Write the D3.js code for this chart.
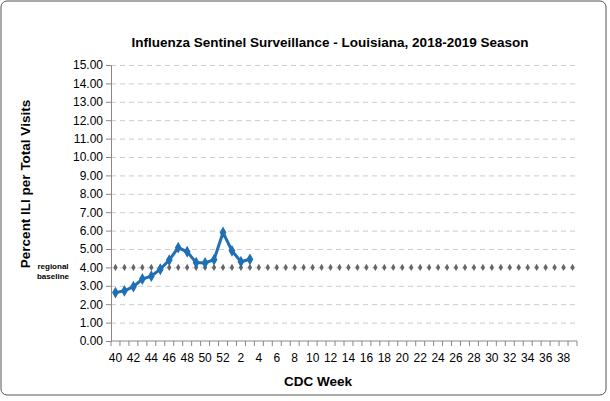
<!DOCTYPE html>
<meta charset="utf-8">
<script src="https://d3js.org/d3.v7.min.js"></script>
<style>
body { margin: 0; background: #fff; font-family: "Liberation Sans", Arial, sans-serif; }
.grid line { stroke: #ccc; stroke-dasharray: 5 4; }
.axis text { font-size: 12px; fill: #000; }
</style>
<body></body>
<script>
var weeks = [40,41,42,43,44,45,46,47,48,49,50,51,52].concat(d3.range(1, 40));
var iliWeeks = [40,41,42,43,44,45,46,47,48,49,50,51,52,1,2,3];
var iliValues = [2.63,2.73,2.95,3.37,3.52,3.90,4.40,5.07,4.85,4.26,4.24,4.42,5.90,4.90,4.31,4.44];
var baseline = 4.0;
var yTicks = d3.range(0, 15.5, 1);

var W = 610, H = 401;
var margin = {top: 65, right: 33, bottom: 60, left: 111};
var width = 577 - margin.left, height = 341 - margin.top;

var root = d3.select("body").append("svg").attr("width", W).attr("height", H);
root.append("rect").attr("x", 1).attr("y", 1).attr("width", W - 5).attr("height", H - 7)
  .attr("rx", 6).attr("fill", "#fff").attr("stroke", "#555");

var svg = root.append("g").attr("transform", "translate(" + margin.left + "," + margin.top + ")");

var x = d3.scaleBand().domain(weeks).range([0, width]);
var y = d3.scaleLinear().domain([0, 15]).range([height, 0]);

svg.append("g").attr("class", "grid")
  .call(d3.axisLeft(y).tickValues(yTicks.slice(1)).tickSize(-width).tickFormat(""))
  .call(function(g) { g.select(".domain").remove(); });

svg.append("g").attr("class", "axis")
  .call(d3.axisLeft(y).tickValues(yTicks).tickSize(5).tickFormat(d3.format(".2f")))
  .call(function(g) { g.select(".domain").attr("stroke", "#888"); g.selectAll("line").attr("stroke", "#888"); });

// x axis: ticks at band edges, labels every other week
var xa = svg.append("g").attr("class", "axis").attr("transform", "translate(0," + height + ")");
xa.append("line").attr("x1", 0).attr("x2", width).attr("stroke", "#888");
xa.selectAll(".tk").data(weeks.concat(["end"])).enter().append("line")
  .attr("x1", function(d, i) { return i * x.step(); }).attr("x2", function(d, i) { return i * x.step(); })
  .attr("y1", 0).attr("y2", 5).attr("stroke", "#888");
xa.selectAll("text").data(weeks.filter(function(d) { return d % 2 == 0; })).enter().append("text")
  .attr("x", function(d) { return x(d) + x.bandwidth() / 2; }).attr("y", 21)
  .attr("text-anchor", "middle").text(function(d) { return d; });

// baseline
svg.selectAll(".bl").data(weeks).enter().append("path")
  .attr("d", d3.symbol(d3.symbolDiamond, 16))
  .attr("transform", function(d) { return "translate(" + (x(d) + x.bandwidth() / 2) + "," + y(baseline) + ")"; })
  .attr("fill", "#666");

var pts = iliWeeks.map(function(w, i) { return {w: w, v: iliValues[i]}; });
svg.append("path").datum(pts)
  .attr("fill", "none").attr("stroke", "#1f6fb4").attr("stroke-width", 3)
  .attr("d", d3.line().x(function(d) { return x(d.w) + x.bandwidth() / 2; }).y(function(d) { return y(d.v); }));
svg.selectAll(".pt").data(pts).enter().append("path")
  .attr("d", d3.symbol(d3.symbolDiamond, 40))
  .attr("transform", function(d) { return "translate(" + (x(d.w) + x.bandwidth() / 2) + "," + y(d.v) + ")"; })
  .attr("fill", "#1f6fb4");

root.append("text").attr("x", 330).attr("y", 47).attr("text-anchor", "middle")
  .attr("font-size", 13.5).attr("font-weight", "bold").text("Influenza Sentinel Surveillance - Louisiana, 2018-2019 Season");
root.append("text").attr("x", 318).attr("y", 386).attr("text-anchor", "middle")
  .attr("font-size", 13.5).attr("font-weight", "bold").text("CDC Week");
root.append("text").attr("transform", "translate(30,184) rotate(-90)").attr("text-anchor", "middle")
  .attr("font-size", 13.5).attr("font-weight", "bold").text("Percent ILI per Total Visits");
root.append("text").attr("x", 53).attr("y", 269).attr("text-anchor", "middle")
  .attr("font-size", 8).attr("font-weight", "bold").text("regional");
root.append("text").attr("x", 53).attr("y", 279).attr("text-anchor", "middle")
  .attr("font-size", 8).attr("font-weight", "bold").text("baseline");
</script>
